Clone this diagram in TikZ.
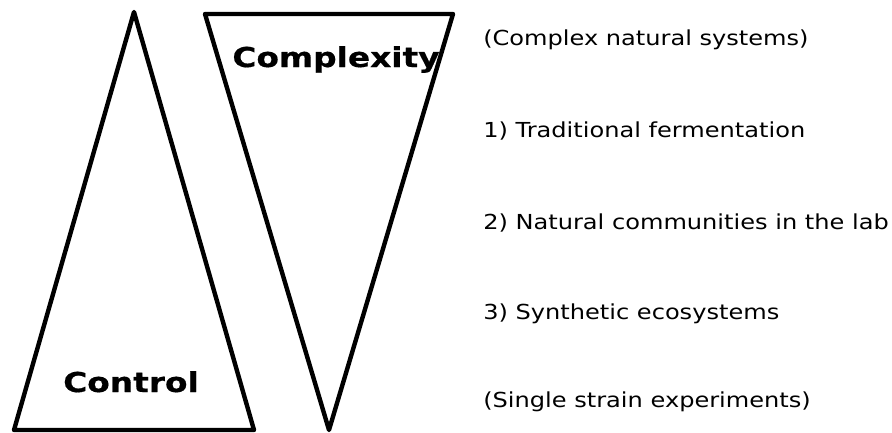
\documentclass[tikz,border=0pt]{standalone}
\usepackage{fontspec}
\setmainfont{DejaVu Sans}
\newfontfamily\itemfont{DejaVu Sans}[FakeStretch=1.165]
\newfontfamily\headfont{DejaVu Sans Bold}[FakeStretch=1.2,FakeBold=0.6]
\begin{document}
\begin{tikzpicture}[x=0.75pt,y=-0.75pt,
  tri/.style={draw=black,line width=3.3pt,line join=round},
  biglabel/.style={inner sep=0pt,anchor=base,font=\headfont\fontsize{20.5}{24}\selectfont},
  item/.style={inner sep=0pt,anchor=base west,font=\itemfont\fontsize{15.5}{18}\selectfont}]
\useasboundingbox (0,0) rectangle (892,432);
% control pyramid (upright) and complexity pyramid (inverted)
\draw[tri] (134,12) -- (254,430) -- (14,430) -- cycle;
\draw[tri] (205,14) -- (453,14) -- (329,430) -- cycle;
\node[biglabel] (complexity) at (336,67) {Complexity};
\node[biglabel] (control) at (131,392) {Control};
% scale of experimental systems
\node[item] (top)  at (483,45)  {(Complex natural systems)};
\node[item] (one)  at (483,137) {1) Traditional fermentation};
\node[item] (two)  at (483,229) {2) Natural communities in the lab};
\node[item] (three) at (483,319) {3) Synthetic ecosystems};
\node[item] (bottom) at (483,407) {(Single strain experiments)};
\end{tikzpicture}
\end{document}
